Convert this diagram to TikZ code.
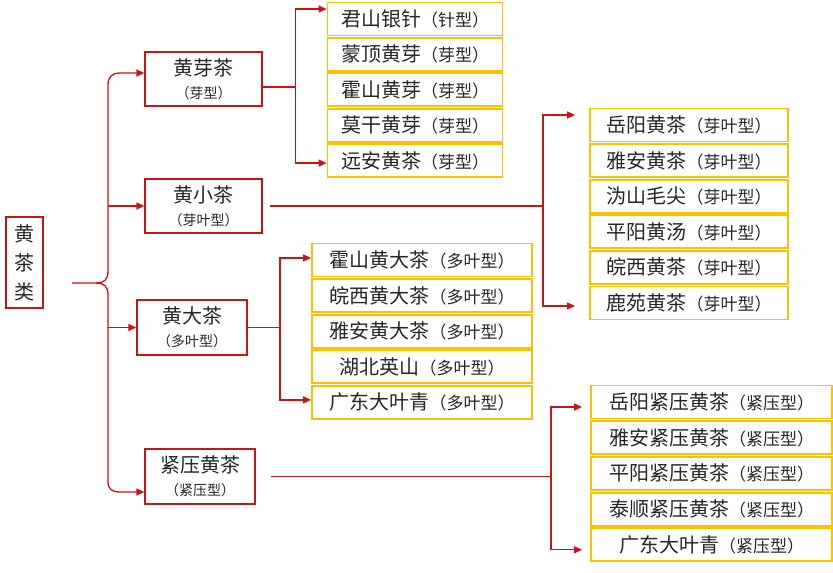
\documentclass[tikz,border=0pt]{standalone}
\usepackage{fontspec}
\newfontfamily\cjk{Noto Sans CJK SC}
\usetikzlibrary{arrows.meta}
\definecolor{linered}{RGB}{200,20,20}
\definecolor{boxyellow}{RGB}{255,192,0}
\newcommand{\bigsz}{\fontsize{20}{24}\selectfont}
\newcommand{\smallsz}{\fontsize{17}{20}\selectfont}
\newcommand{\catsz}{\fontsize{14}{17}\selectfont}
\tikzset{
  catbox/.style={draw=linered, line width=1.3pt, inner sep=0pt, align=center, text=black!85, font=\cjk\catsz},
  teabox/.style={draw=boxyellow, line width=1.8pt, inner sep=0pt, minimum height=33pt, text=black!85},
  link/.style={draw=linered, line width=1.3pt},
  arr/.style={link, -{Triangle[length=8pt,width=7pt]}},
}
\begin{document}
\begin{tikzpicture}[x=1pt, y=-1pt, font=\cjk]
  \useasboundingbox (0,0) rectangle (833,573);
  % 总类
  \node[catbox, minimum width=37pt, minimum height=91pt, font=\cjk\fontsize{20}{29}\selectfont]
    (root) at (24.5,262.5) {黄\\茶\\类};
  % 四个分类
  \node[catbox, minimum width=117pt, minimum height=54pt] (ya) at (203.5,79)
    {{\bigsz 黄芽茶}\\[6pt]（芽型）};
  \node[catbox, minimum width=117pt, minimum height=54pt] (xs) at (203.5,206)
    {{\bigsz 黄小茶}\\[6pt]（芽叶型）};
  \node[catbox, minimum width=110pt, minimum height=55pt] (da) at (192,327.5)
    {{\bigsz 黄大茶}\\[6pt]（多叶型）};
  \node[catbox, minimum width=110pt, minimum height=55pt] (jy) at (200,476.5)
    {{\bigsz 紧压黄茶}\\[6pt]（紧压型）};
  % 各类茶名
  \foreach \tname/\ttype [count=\i] in {君山银针/针型, 蒙顶黄芽/芽型, 霍山黄芽/芽型,
      莫干黄芽/芽型, 远安黄茶/芽型}
    \node[teabox, minimum width=175pt] (ya\i) at (415,{19+35.4*(\i-1)})
      {\bigsz\tname\smallsz （\ttype）};
  \foreach \tname [count=\i] in {岳阳黄茶, 雅安黄茶, 沩山毛尖, 平阳黄汤, 皖西黄茶, 鹿苑黄茶}
    \node[teabox, minimum width=198pt] (xs\i) at (689,{125+35.6*(\i-1)})
      {\bigsz\tname\smallsz （芽叶型）};
  \foreach \tname [count=\i] in {霍山黄大茶, 皖西黄大茶, 雅安黄大茶, 湖北英山, 广东大叶青}
    \node[teabox, minimum width=220pt] (da\i) at (422,{260+35.6*(\i-1)})
      {\bigsz\tname\smallsz （多叶型）};
  \foreach \tname [count=\i] in {岳阳紧压黄茶, 雅安紧压黄茶, 平阳紧压黄茶, 泰顺紧压黄茶, 广东大叶青}
    \node[teabox, minimum width=241pt] (jy\i) at (711.5,{402+35.7*(\i-1)})
      {\bigsz\tname\smallsz （紧压型）};
  % 大括号
  \coordinate (tip) at (72,283);
  \coordinate (spine) at (108,283);
  \draw[arr] (tip) -- (96,283) .. controls (104,283) and (108,280) .. (108,271)
    -- (108,85) .. controls (108,77) and (112,73) .. (120,73) -- ([yshift=6pt]ya.west);
  \draw[arr] (96,283) .. controls (104,283) and (108,286) .. (108,295)
    -- (108,482) .. controls (108,489) and (112,492) .. (120,492) -- ([yshift=-15.5pt]jy.west);
  \draw[arr] (spine |- xs.west) -- (xs.west);
  \draw[arr] (spine |- da.west) -- (da.west);
  % 黄芽茶分支
  \draw[link] ([yshift=-8pt]ya.east) -- ++(33,0) coordinate (b1);
  \draw[arr] (b1) |- ([yshift=10pt]ya1.west);
  \draw[arr] (b1) |- ([yshift=-2.5pt]ya5.west);
  % 黄小茶分支
  \coordinate (b2) at (543,206);
  \draw[link, shorten <=7pt] (xs.east) -- (b2);
  \draw[arr, shorten >=14pt] (b2) |- ([yshift=10pt]xs1.west);
  \draw[arr, shorten >=14pt] (b2) |- ([yshift=-3pt]xs6.west);
  % 黄大茶分支
  \coordinate (b3) at (280,327.5);
  \draw[link] (da.east) -- (b3);
  \draw[arr] (b3) |- ([yshift=2pt]da1.west);
  \draw[arr] (b3) |- ([yshift=2.5pt]da5.west);
  % 紧压黄茶分支
  \coordinate (b4) at (551,476.5);
  \draw[link, shorten <=15pt] (jy.east) -- (b4);
  \draw[arr, shorten >=8pt] (b4) |- ([yshift=-5pt]jy1.west);
  \draw[arr, shorten >=8pt] (b4) |- ([yshift=-5pt]jy5.west);
\end{tikzpicture}
\end{document}
